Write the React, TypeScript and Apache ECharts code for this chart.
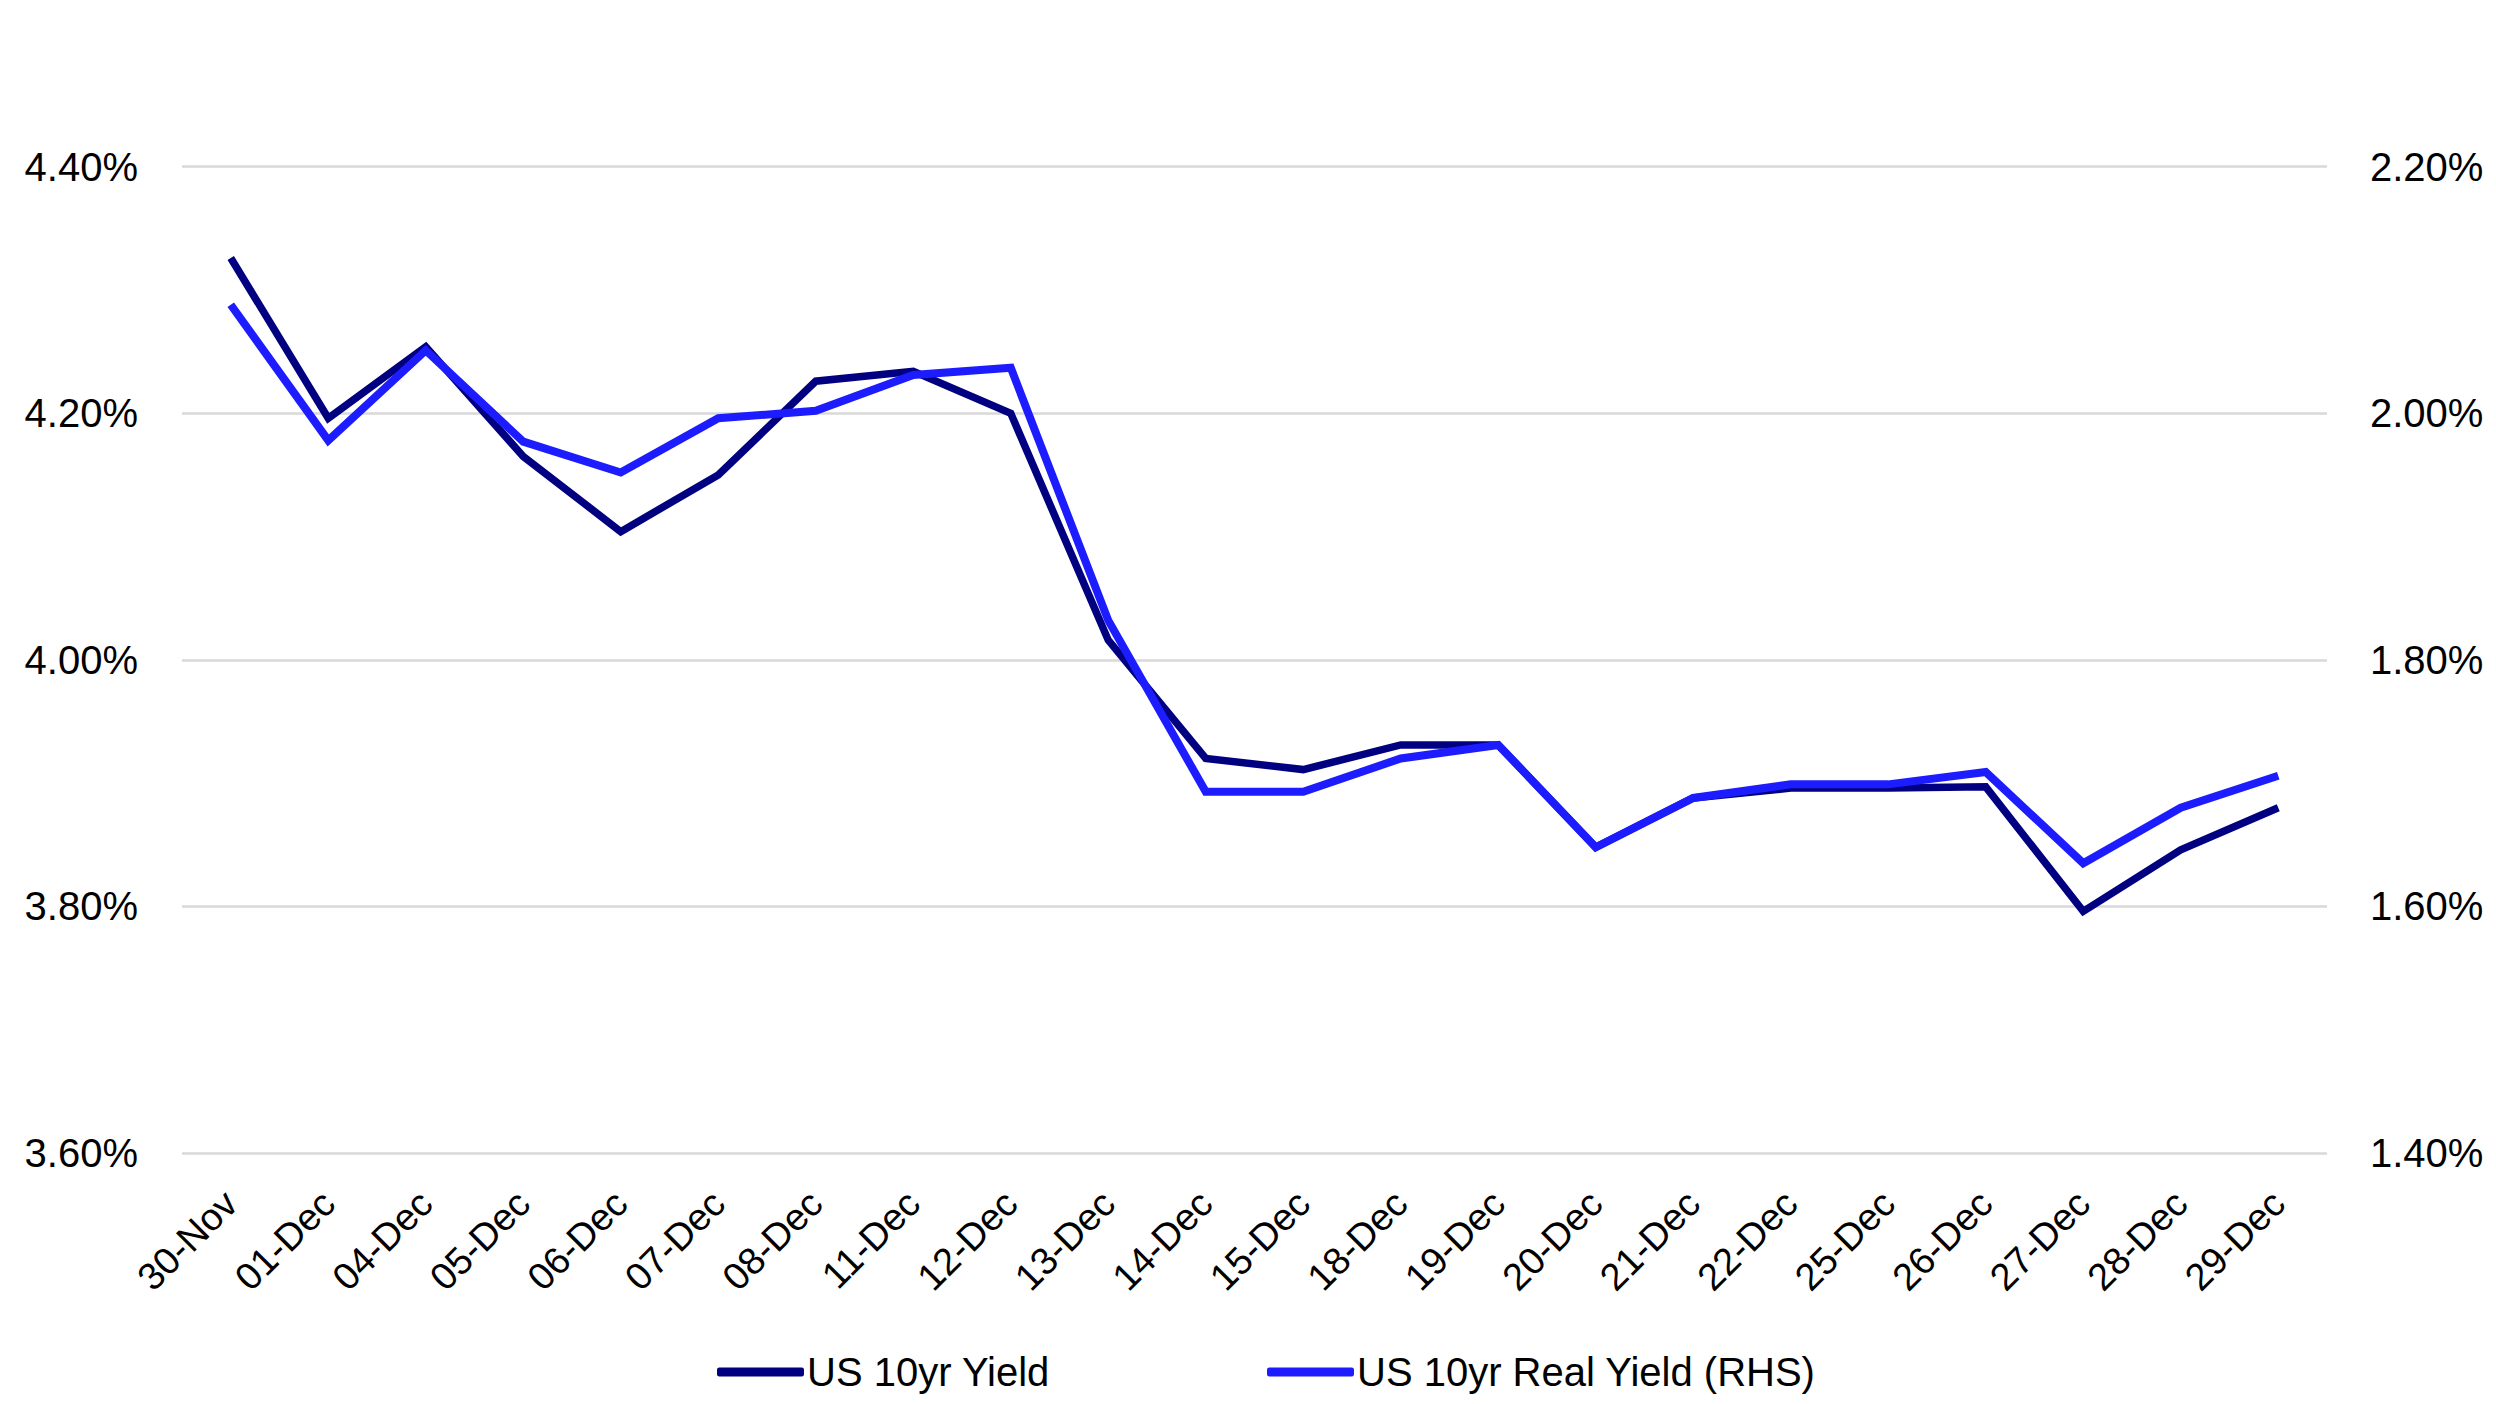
import React, { useEffect, useRef } from "react";
import * as echarts from "echarts";

const categories = [
  "30-Nov", "01-Dec", "04-Dec", "05-Dec", "06-Dec", "07-Dec", "08-Dec", "11-Dec",
  "12-Dec", "13-Dec", "14-Dec", "15-Dec", "18-Dec", "19-Dec", "20-Dec", "21-Dec",
  "22-Dec", "25-Dec", "26-Dec", "27-Dec", "28-Dec", "29-Dec",
];

const us10yrYield = [
  4.326, 4.196, 4.254, 4.165, 4.104, 4.15, 4.226, 4.234,
  4.2, 4.016, 3.92, 3.911, 3.931, 3.931, 3.848, 3.888,
  3.896, 3.896, 3.897, 3.796, 3.846, 3.88,
];

const us10yrRealYield = [
  2.088, 1.978, 2.051, 1.977, 1.952, 1.996, 2.002, 2.031,
  2.037, 1.832, 1.693, 1.693, 1.72, 1.731, 1.648, 1.688,
  1.699, 1.699, 1.709, 1.635, 1.68, 1.706,
];

const leftAxis = { min: 3.6, max: 4.4, interval: 0.2 };
const rightAxis = { min: 1.4, max: 2.2, interval: 0.2 };

const NAVY = "#000080";
const BLUE = "#1c1cff";
const FONT = "Liberation Sans";

export default function App() {
  const ref = useRef<HTMLDivElement>(null);

  useEffect(() => {
    if (!ref.current) return;
    const chart = echarts.init(ref.current, undefined, { renderer: "svg" });
    const pct = (v: number) => v.toFixed(2) + "%";
    chart.setOption({
      animation: false,
      backgroundColor: "#ffffff",
      textStyle: { fontFamily: FONT },
      grid: { left: 182, right: 169, top: 166.7, bottom: 251, containLabel: false },
      legend: [
        {
          data: [{ name: "US 10yr Yield", icon: "roundRect" }],
          left: 712,
          top: 1347,
          itemWidth: 87,
          itemHeight: 9,
          itemGap: 0,
          textStyle: { fontSize: 40, color: "#000", fontFamily: FONT, padding: [0, 0, 0, -2] },
        },
        {
          data: [{ name: "US 10yr Real Yield (RHS)", icon: "roundRect" }],
          left: 1262,
          top: 1347,
          itemWidth: 87,
          itemHeight: 9,
          itemGap: 0,
          textStyle: { fontSize: 40, color: "#000", fontFamily: FONT, padding: [0, 0, 0, -2] },
        },
      ],
      xAxis: {
        type: "category",
        data: categories,
        boundaryGap: true,
        axisLine: { show: false },
        axisTick: { show: false },
        axisLabel: {
          interval: 0,
          rotate: 45,
          margin: 44,
          fontSize: 38,
          color: "#000",
          fontFamily: FONT,
        },
      },
      yAxis: [
        {
          type: "value",
          position: "left",
          min: leftAxis.min,
          max: leftAxis.max,
          interval: leftAxis.interval,
          axisLine: { show: false },
          axisTick: { show: false },
          splitLine: { show: true, lineStyle: { color: "#d9d9d9", width: 2.5 } },
          axisLabel: { formatter: pct, fontSize: 40, color: "#000", margin: 44, fontFamily: FONT },
        },
        {
          type: "value",
          position: "right",
          min: rightAxis.min,
          max: rightAxis.max,
          interval: rightAxis.interval,
          axisLine: { show: false },
          axisTick: { show: false },
          splitLine: { show: false },
          axisLabel: { formatter: pct, fontSize: 40, color: "#000", margin: 43, fontFamily: FONT },
        },
      ],
      series: [
        {
          name: "US 10yr Yield",
          type: "line",
          yAxisIndex: 0,
          data: us10yrYield,
          showSymbol: false,
          symbol: "none",
          color: NAVY,
          lineStyle: { color: NAVY, width: 7.5, join: "miter" },
        },
        {
          name: "US 10yr Real Yield (RHS)",
          type: "line",
          yAxisIndex: 1,
          data: us10yrRealYield,
          showSymbol: false,
          symbol: "none",
          color: BLUE,
          lineStyle: { color: BLUE, width: 8, join: "miter" },
        },
      ],
    });
    return () => chart.dispose();
  }, []);

  return (
    <div
      ref={ref}
      style={{ position: "fixed", left: 0, top: 0, width: 2496, height: 1404, background: "#fff" }}
    />
  );
}
